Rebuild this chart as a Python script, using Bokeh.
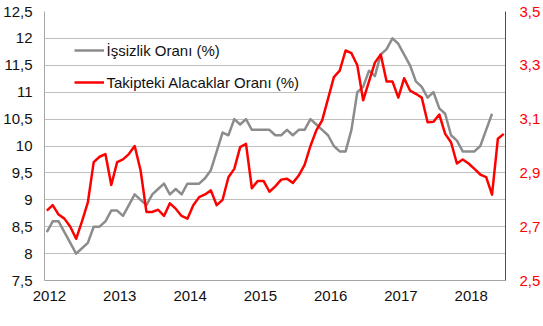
from bokeh.plotting import figure
from bokeh.models import (Range1d, LinearAxis, FixedTicker, CustomJSTickFormatter,
                          Legend, LegendItem, ColumnDataSource)
from bokeh.embed import file_html
from bokeh.resources import INLINE

# Year labels on the x axis (monthly data, Jan 2012 onward)
years = ["2012", "2013", "2014", "2015", "2016", "2017", "2018"]

# İşsizlik Oranı (%) - Jan 2012 .. May 2018 (left axis)
unemployment = [
    8.4, 8.6, 8.6, 8.4, 8.2, 8.0, 8.1, 8.2, 8.5, 8.5, 8.6, 8.8,
    8.8, 8.7, 8.9, 9.1, 9.0, 8.9, 9.1, 9.2, 9.3, 9.1, 9.2, 9.1,
    9.3, 9.3, 9.3, 9.4, 9.55, 9.9, 10.25, 10.2, 10.5, 10.4, 10.5, 10.3,
    10.3, 10.3, 10.3, 10.2, 10.2, 10.3, 10.2, 10.3, 10.3, 10.5, 10.4, 10.3,
    10.2, 10.0, 9.9, 9.9, 10.3, 11.0, 11.1, 11.4, 11.3, 11.7, 11.8, 12.0,
    11.9, 11.7, 11.5, 11.2, 11.1, 10.9, 11.0, 10.7, 10.6, 10.2, 10.1, 9.9,
    9.9, 9.9, 10.0, 10.3, 10.6,
]

# Takipteki Alacaklar Oranı (%) - Jan 2012 .. Jul 2018 (right axis)
npl_ratio = [
    2.76, 2.78, 2.745, 2.73, 2.70, 2.655, 2.72, 2.79, 2.94, 2.96, 2.97, 2.855,
    2.94, 2.95, 2.97, 3.0, 2.91, 2.755, 2.755, 2.763, 2.74, 2.787, 2.767, 2.74,
    2.73, 2.78, 2.81, 2.82, 2.835, 2.78, 2.80, 2.884, 2.915, 2.996, 3.008, 2.843,
    2.87, 2.87, 2.83, 2.85, 2.875, 2.878, 2.863, 2.89, 2.93, 3.0, 3.058, 3.095,
    3.175, 3.256, 3.28, 3.355, 3.345, 3.3, 3.17, 3.24, 3.31, 3.34, 3.24, 3.24,
    3.18, 3.252, 3.206, 3.194, 3.18, 3.088, 3.09, 3.117, 3.045, 3.014, 2.935, 2.95,
    2.935, 2.915, 2.894, 2.884, 2.819, 3.027, 3.045,
]

left_ticks = [7.5, 8, 8.5, 9, 9.5, 10, 10.5, 11, 11.5, 12, 12.5]
right_ticks = [2.5, 2.7, 2.9, 3.1, 3.3, 3.5]

FONT = "Liberation Sans"
FS = "15px"
GRAY = "#8C8C8C"
RED = "#FF0000"

n = len(npl_ratio)
src_u = ColumnDataSource(dict(x=list(range(len(unemployment))), y=unemployment))
src_n = ColumnDataSource(dict(x=list(range(n)), y=npl_ratio))

p = figure(width=543, height=326, output_backend="svg", toolbar_location=None,
           x_range=Range1d(-0.4, n - 1 + 0.3), y_range=Range1d(7.5, 12.5),
           min_border_left=44, min_border_right=37, min_border_top=11,
           min_border_bottom=46)
p.extra_y_ranges = {"npl": Range1d(2.5, 3.5)}
p.outline_line_color = None
p.background_fill_color = "white"
p.border_fill_color = "white"

# grid
p.xgrid.grid_line_color = None
p.ygrid.grid_line_color = "#BFBFBF"
p.ygrid.grid_line_width = 1

# left axis
ly = p.yaxis[0]
ly.ticker = FixedTicker(ticks=left_ticks)
ly.formatter = CustomJSTickFormatter(
    code="return Number.isInteger(tick) ? tick.toFixed(0) : tick.toFixed(1).replace('.', ',');")
ly.axis_line_color = "#A6A6A6"
ly.major_tick_line_color = None
ly.minor_tick_line_color = None
ly.major_tick_out = 0
ly.major_label_standoff = 12
ly.major_label_text_font = FONT
ly.major_label_text_font_size = FS
ly.major_label_text_color = "#111111"

# bottom axis
bx = p.xaxis[0]
bx.ticker = FixedTicker(ticks=[12 * k + 0.45 for k in range(len(years))])
bx.formatter = CustomJSTickFormatter(args=dict(labels=years),
    code="const i = Math.round((tick - 0.45) / 12); return labels[i] || '';")
bx.axis_line_color = "#A6A6A6"
bx.major_tick_line_color = None
bx.minor_tick_line_color = None
bx.major_tick_out = 0
bx.major_label_standoff = 10
bx.major_label_text_font = FONT
bx.major_label_text_font_size = FS
bx.major_label_text_color = "#111111"

# right axis
ry = LinearAxis(y_range_name="npl", ticker=FixedTicker(ticks=right_ticks),
                formatter=CustomJSTickFormatter(code="return tick.toFixed(1).replace('.', ',');"))
ry.axis_line_color = RED
ry.major_tick_line_color = None
ry.minor_tick_line_color = None
ry.major_tick_out = 0
ry.major_label_standoff = 14
ry.major_label_text_font = FONT
ry.major_label_text_font_size = FS
ry.major_label_text_color = RED
p.add_layout(ry, "right")

r1 = p.line("x", "y", source=src_u, line_color=GRAY, line_width=2.5, line_join="round")
r2 = p.line("x", "y", source=src_n, y_range_name="npl", line_color=RED,
            line_width=2.5, line_join="round")

legend = Legend(items=[LegendItem(label="İşsizlik Oranı (%)", renderers=[r1]),
                       LegendItem(label="Takipteki Alacaklar Oranı (%)", renderers=[r2])],
                location=(29.5, 188), orientation="vertical",
                padding=0, margin=0, spacing=12,
                glyph_width=30, glyph_height=20, label_height=20, label_standoff=3,
                label_text_font=FONT, label_text_font_size=FS, label_text_color="#111111",
                border_line_color=None, background_fill_alpha=0)
p.add_layout(legend)

open("out.html", "w").write(file_html(p, INLINE))
